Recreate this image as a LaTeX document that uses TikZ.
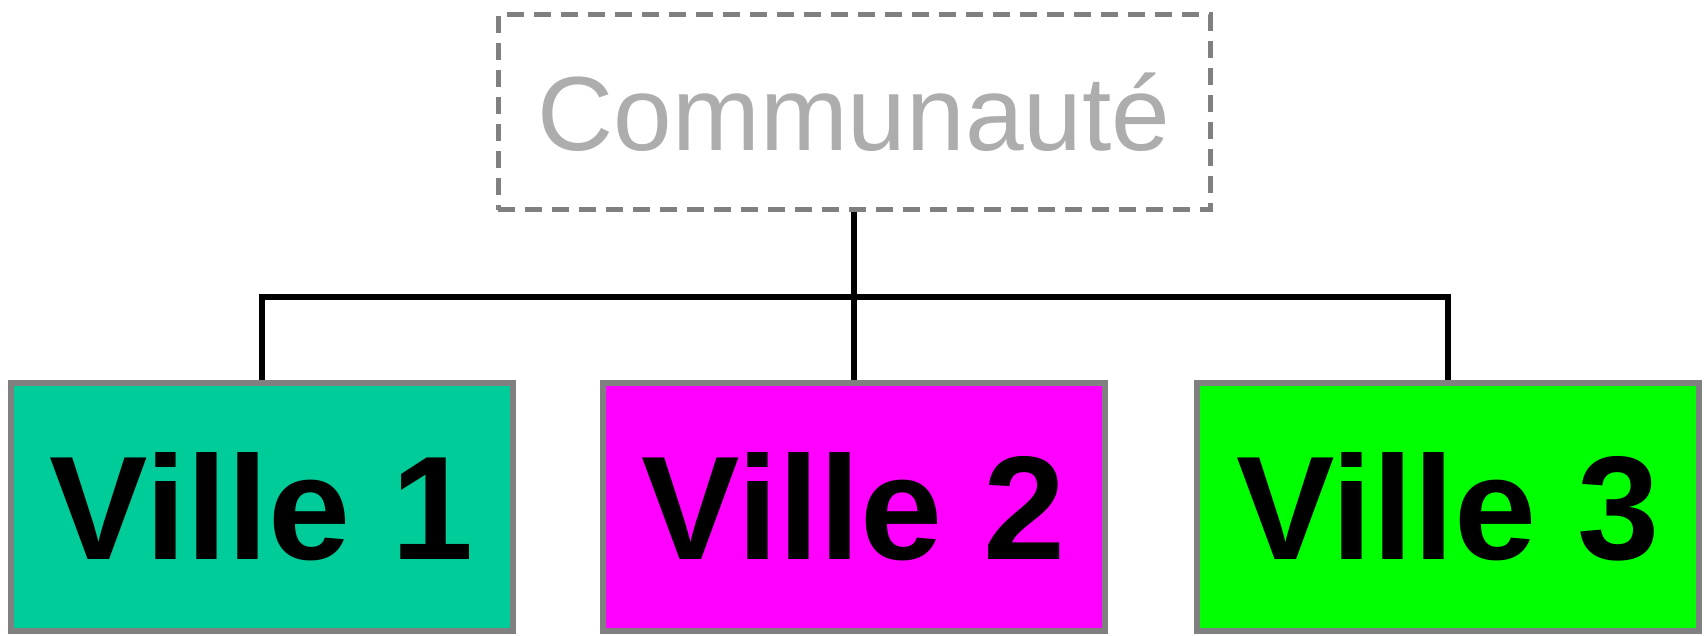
\documentclass[tikz,border=0pt]{standalone}
\usepackage{fontspec}
\setmainfont{Liberation Sans}
\usepackage{tikz}

\definecolor{villeA}{HTML}{00CC99}
\definecolor{villeB}{HTML}{FF00FF}
\definecolor{villeC}{HTML}{00FF00}

\begin{document}
\begin{tikzpicture}[
    ville/.style={draw=gray, line width=0.06cm, minimum width=5.02cm, minimum height=2.48cm, inner sep=0pt, font=\fontsize{42}{48}\selectfont\bfseries},
    groupe/.style={draw=gray, line width=0.05cm, dash pattern=on 0.17cm off 0.1cm, minimum width=7.12cm, minimum height=1.95cm, inner sep=0pt, text=black!32, font=\fontsize{30}{36}\selectfont},
    lien/.style={line width=0.06cm, black}]
                \useasboundingbox (0,0) rectangle (17.07,6.35);
                \node[groupe] (comm) at (8.54, 5.225) {Communauté};
                \foreach \i/\x/\c in {1/2.62/villeA, 2/8.54/villeB, 3/14.48/villeC}
                    \node[ville, fill=\c] (v\i) at (\x, 1.28) {Ville \i};
                \coordinate (barre) at (8.54, 3.38);
                \draw[lien] (comm.south) -- (v2.north);
                \draw[lien] (v1.north) |- (barre) -| (v3.north);
            \end{tikzpicture}
\end{document}
